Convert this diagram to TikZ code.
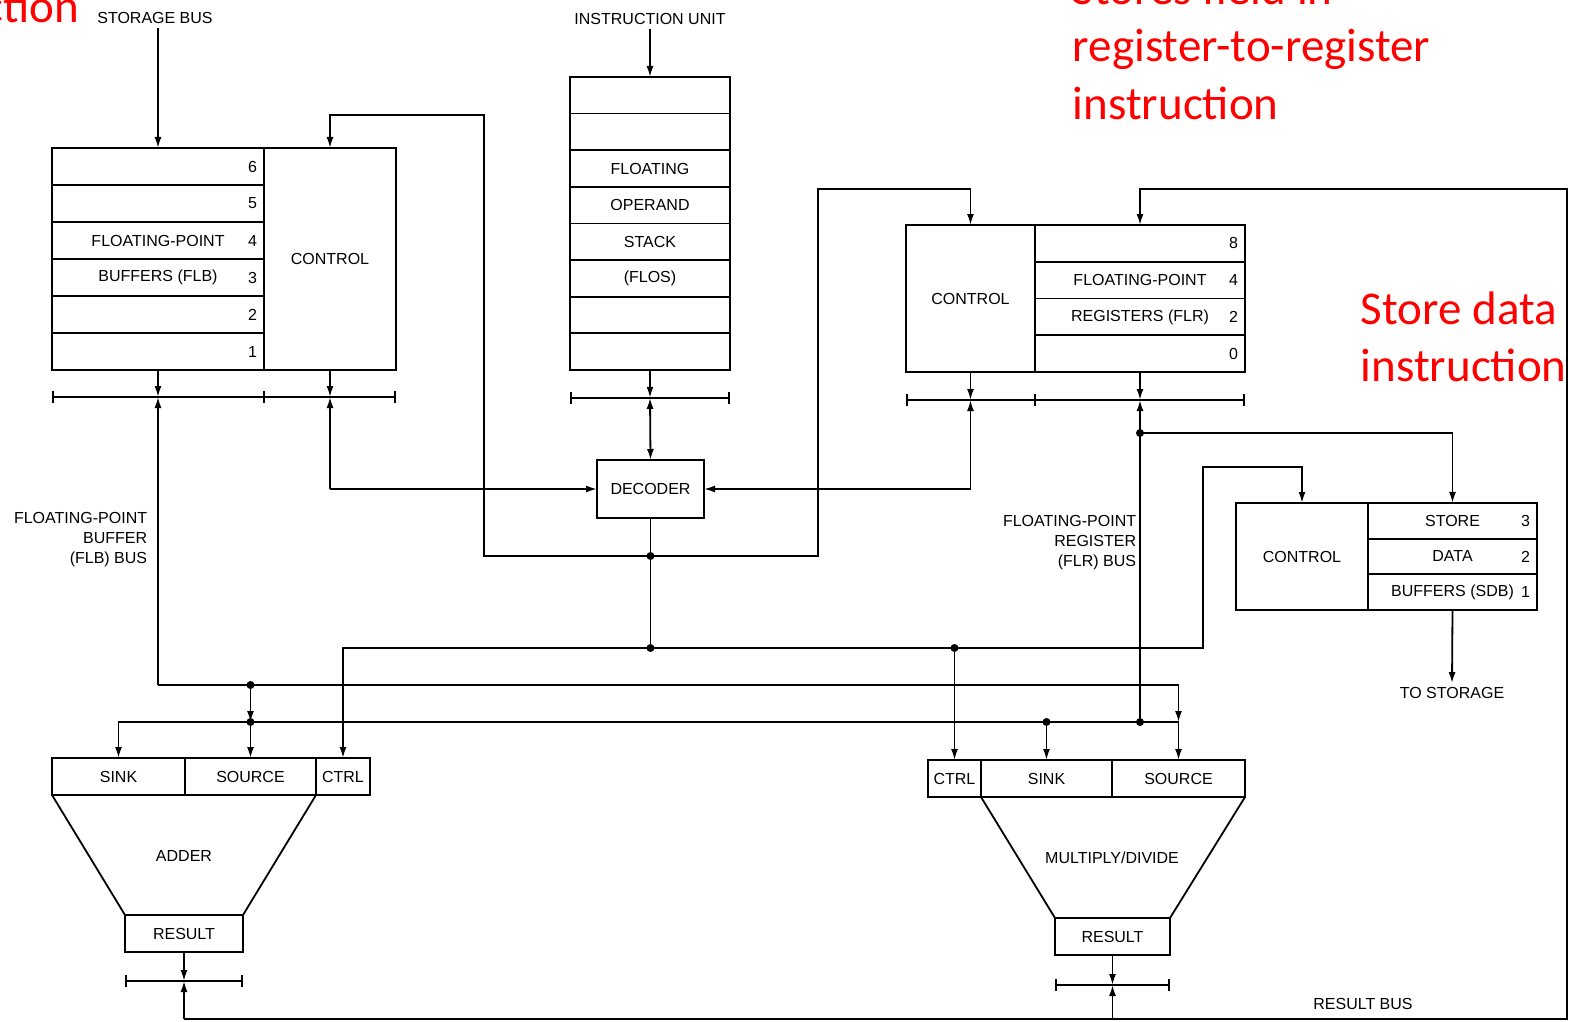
\documentclass[tikz,border=0pt]{standalone}
\usepackage{fontspec}
\setmainfont{Liberation Sans}
\newfontfamily\notefont{Carlito}
\usetikzlibrary{arrows.meta,positioning,calc}
\definecolor{notered}{HTML}{FF0000}

\begin{document}
\begin{tikzpicture}[
  x=1pt, y=-1pt,
  font=\fontsize{16}{20}\selectfont,
  line width=1.8pt,
  cell/.style 2 args={draw, inner sep=0pt, outer sep=0pt, minimum width=#1, minimum height=#2},
  num/.style={anchor=east, inner sep=6pt},
  lbl/.style={inner sep=0pt, align=right},
  flow/.style={-{Latex[length=11pt,width=7pt]}},
  twoway/.style={{Latex[length=11pt,width=7pt]}-{Latex[length=11pt,width=7pt]}},
  busbar/.style={{Bar[width=12pt]}-{Bar[width=12pt]}},
  note/.style={text=notered, font=\notefont\fontsize{47}{57}\selectfont, anchor=base west, inner sep=0pt},
]
  \useasboundingbox (0,0) rectangle (1569,1022);
  % --- red notes ---
  \node[note, anchor=base east] (n1) at (80,23) {ction};
  \node[note] (n2) at (1072,5) {Stores field in};
  \node[note] (n3) at (1072,62) {register-to-register};
  \node[note] (n4) at (1072,120) {instruction};
  \node[note] (n5) at (1360,324) {Store data};
  \node[note] (n6) at (1360,381) {instruction};
  % --- floating-point buffers ---
  \foreach \k/\n/\txt in {0/6/{},1/5/{},2/4/FLOATING-POINT,3/3/{BUFFERS (FLB)},4/2/{},5/1/{}}
    \node[cell={212pt}{37pt}, label={[num]east:\n}] (flb\n) at (158,{166.5+37*\k}) {\txt};
  \node[cell={132pt}{222pt}] (flbctl) at (330,259) {CONTROL};
  % --- floating operand stack ---
  \foreach \k/\txt in {0/{},1/{},2/FLOATING,3/OPERAND,4/STACK,5/{(FLOS)},6/{},7/{}}
    \node[cell={160pt}{36.6pt}] (flos\k) at (650,{95.3+36.6*\k}) {\txt};
  \node[cell={107pt}{58pt}] (dec) at (650.5,489) {DECODER};
  % --- floating-point registers ---
  \node[cell={129pt}{147pt}] (flrctl) at (970.5,298.5) {CONTROL};
  \foreach \k/\n/\txt in {0/8/{},1/4/FLOATING-POINT,2/2/{REGISTERS (FLR)},3/0/{}}
    \node[cell={210pt}{36.75pt}, label={[num]east:\n}] (flr\n) at (1140,{243.4+36.75*\k}) {\txt};
  % --- store data buffers ---
  \node[cell={132pt}{107pt}] (sdbctl) at (1302,556.5) {CONTROL};
  \foreach \k/\n/\txt in {0/3/STORE,1/2/DATA,2/1/{BUFFERS (SDB)}}
    \node[cell={169pt}{35.67pt}, label={[num]east:\n}] (sdb\n) at (1452.5,{520.8+35.67*\k}) {\txt};
  \node (tostor) at (1452,693) {TO STORAGE};
  % --- adder ---
  \node[cell={133pt}{37pt}] (asink) at (118.5,776.5) {SINK};
  \node[cell={131pt}{37pt}] (asrc) at (250.5,776.5) {SOURCE};
  \node[cell={54pt}{37pt}] (actl) at (343,776.5) {CTRL};
  \node (adder) at (184,856) {ADDER};
  \node[cell={118pt}{37pt}] (ares) at (184,933.5) {RESULT};
  \draw (asink.south west) -- (ares.north west);
  \draw (actl.south west) -- (ares.north east);
  % --- multiply/divide ---
  \node[cell={53pt}{37pt}] (mctl) at (954.5,778.5) {CTRL};
  \node[cell={131pt}{37pt}] (msink) at (1046.5,778.5) {SINK};
  \node[cell={133pt}{37pt}] (msrc) at (1178.5,778.5) {SOURCE};
  \node (mdlbl) at (1112,858) {MULTIPLY/DIVIDE};
  \node[cell={115pt}{37pt}] (mres) at (1112.5,936.5) {RESULT};
  \draw (msink.south west) -- (mres.north west);
  \draw (msrc.south east) -- (mres.north east);
  % --- labels ---
  \node (storage) at (155,18) {STORAGE BUS};
  \node (iu) at (650,19) {INSTRUCTION UNIT};
  \node[lbl, anchor=east] (flbbuslbl) at (148,540) {FLOATING-POINT\\BUFFER\\(FLB) BUS};
  \node[lbl, anchor=east] (flrbuslbl) at (1137,543) {FLOATING-POINT\\REGISTER\\(FLR) BUS};
  \node (resbuslbl) at (1363,1004) {RESULT BUS};
  % --- bus bars ---
  \coordinate (flbbus) at ([yshift=-27pt]flb1.south west);
  \coordinate (flosbus) at ([yshift=-28pt]flos7.south west);
  \coordinate (flrbus) at ([yshift=-28pt]flrctl.south west);
  \coordinate (aresbus) at ([yshift=-29pt]ares.south west);
  \coordinate (mresbus) at ([yshift=-30pt]mres.south west);
  \draw[busbar] (flbbus) -- (flbbus -| flbctl.east);
  \draw[busbar] (flosbus) -- (flosbus -| flos7.east);
  \draw[busbar] (flrbus) -- (flrbus -| flr0.east);
  \draw[busbar] (aresbus) -- (aresbus -| ares.east);
  \draw[busbar] (mresbus) -- (mresbus -| mres.east);
  \draw ([yshift=-21pt]flbctl.south west) -- ([yshift=-33pt]flbctl.south west);
  \draw ([yshift=-22pt]flrctl.south east) -- ([yshift=-34pt]flrctl.south east);
  % --- inputs from storage and instruction unit ---
  \draw[flow] (storage.south -| flb6.north) -- (flb6.north);
  \draw[flow] (iu.south -| flos0.north) -- (flos0.north);
  % --- FLB bus ---
  \coordinate (flbj) at (flb1.south |- 0,685);
  \coordinate (aj1) at (asrc.north |- flbj);
  \coordinate (aj2) at (asrc.north |- 0,722);
  \coordinate (mj) at (msrc.north |- aj2);
  \draw[flow] (flb1.south) -- (flb1.south |- flbbus);
  \draw[flow] (flbj) -- (flb1.south |- flbbus);
  \draw[flow] (flbj) -| (mj);
  \draw[flow] (aj1) -- (aj2);
  \draw[flow] (aj2) -- (asrc.north);
  \draw[flow] (mj) -| (asink.north);
  \draw[flow] (mj) -- (msrc.north);
  % --- FLR bus ---
  \coordinate (rj1) at (flr0.south |- 0,433);
  \coordinate (rj2) at (flr0.south |- aj2);
  \coordinate (mj2) at (msink.north |- aj2);
  \draw[flow] (flr0.south) -- (flr0.south |- flrbus);
  \draw[flow] (rj2) -- (flr0.south |- flrbus);
  \draw[flow] (rj1) -| (sdb3.north);
  \draw[flow] (mj2) -- (msink.north);
  % --- control lines to the decoder ---
  \coordinate (lc) at (flbctl.south |- dec.west);
  \coordinate (rc) at (flrctl.south |- dec.east);
  \draw[flow] (flbctl.south) -- (flbctl.south |- flbbus);
  \draw[flow] (lc) -- (flbctl.south |- flbbus);
  \draw[flow] (lc) -- (dec.west);
  \draw[flow] (flrctl.south) -- (flrctl.south |- flrbus);
  \draw[flow] (rc) -- (flrctl.south |- flrbus);
  \draw[flow] (rc) -- (dec.east);
  \draw[flow] (flos7.south) -- (flos7.south |- flosbus);
  \draw[twoway] (flos7.south |- flosbus) -- (dec.north);
  % --- decoder outputs ---
  \coordinate (dj1) at (dec.south |- 0,556);
  \coordinate (dj2) at (dec.south |- 0,648);
  \coordinate (mcj) at (mctl.north |- dj2);
  \draw (dec.south) -- (dj2);
  \draw[flow] (dj1) -| (484,115) -| (flbctl.north);
  \draw[flow] (dj1) -| (818,189) -| (flrctl.north);
  \draw[flow] (dj2) -| (actl.north);
  \draw[flow] (mcj) -- (mctl.north);
  \draw[flow] (dj2) -| (1203,467) -| (sdbctl.north);
  % --- result bus ---
  \coordinate (rbusL) at ([yshift=-67pt]ares.south);
  \coordinate (mrj) at (mres.south |- rbusL);
  \coordinate (rbusR) at (1567,1019);
  \coordinate (rtop) at (1567,189);
  \draw[flow] (ares.south) -- (ares.south |- aresbus);
  \draw[flow] (rbusL) -- (ares.south |- aresbus);
  \draw[flow] (mres.south) -- (mres.south |- mresbus);
  \draw[flow] (mrj) -- (mres.south |- mresbus);
  \draw[flow] (rbusL) -- (rbusR) -- (rtop) -| (flr8.north);
  \draw[flow] (sdb1.south) -- (tostor.north);
  % --- junction dots ---
  \foreach \c in {dj1,dj2,mcj,aj1,aj2,mj2,rj1,rj2}
    \fill (\c) circle[radius=4pt];
\end{tikzpicture}
\end{document}
